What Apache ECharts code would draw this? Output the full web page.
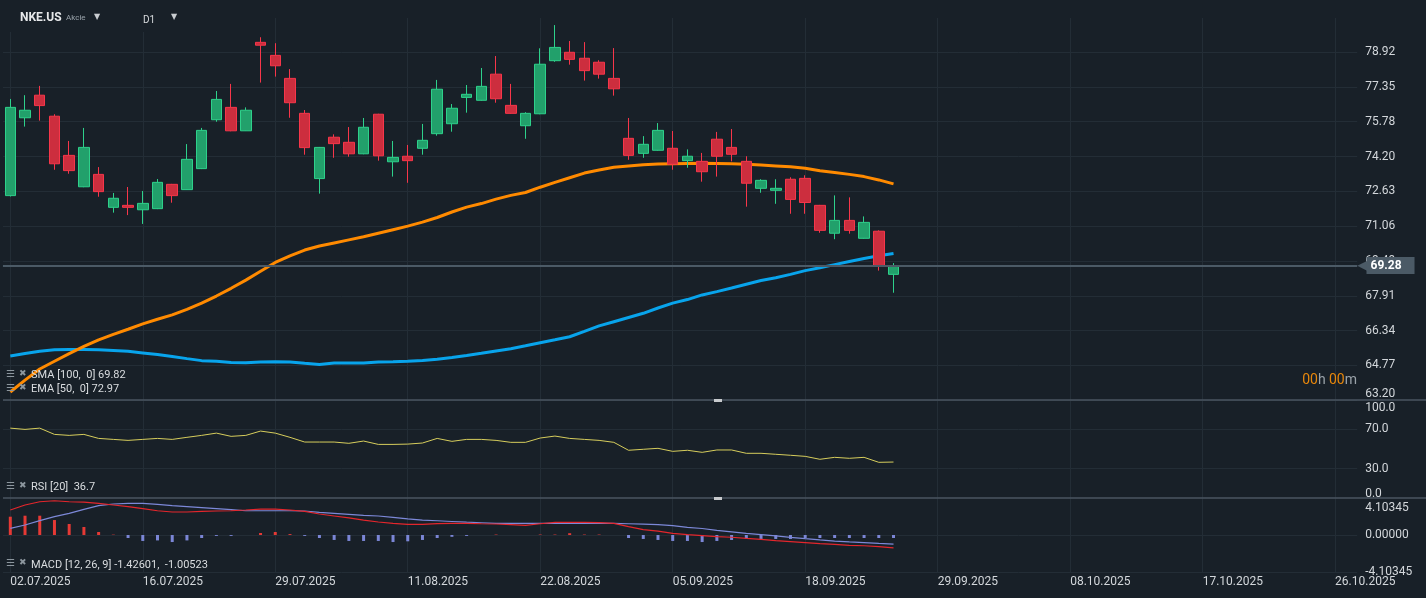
<!DOCTYPE html>
<html><head><meta charset="utf-8">
<script src="https://cdn.jsdelivr.net/npm/echarts@6/dist/echarts.min.js"></script>
<style>html,body{margin:0;padding:0;background:#182028;}#c{width:1426px;height:598px;}</style>
</head><body><div id="c"></div>
<script>
const dates = [
 '02.07.2025','03.07.2025','07.07.2025','08.07.2025','09.07.2025','10.07.2025','11.07.2025','14.07.2025','15.07.2025','16.07.2025',
 '17.07.2025','18.07.2025','21.07.2025','22.07.2025','23.07.2025','24.07.2025','25.07.2025','28.07.2025','29.07.2025','30.07.2025',
 '31.07.2025','01.08.2025','04.08.2025','05.08.2025','06.08.2025','07.08.2025','08.08.2025','11.08.2025','12.08.2025','13.08.2025',
 '14.08.2025','15.08.2025','18.08.2025','19.08.2025','20.08.2025','21.08.2025','22.08.2025','25.08.2025','26.08.2025','27.08.2025',
 '28.08.2025','29.08.2025','02.09.2025','03.09.2025','04.09.2025','05.09.2025','08.09.2025','09.09.2025','10.09.2025','11.09.2025',
 '12.09.2025','15.09.2025','16.09.2025','17.09.2025','18.09.2025','19.09.2025','22.09.2025','23.09.2025','24.09.2025','25.09.2025',
 '26.09.2025',
 '27.09.2025','28.09.2025','29.09.2025','30.09.2025','01.10.2025','02.10.2025','03.10.2025','04.10.2025','05.10.2025','06.10.2025',
 '07.10.2025','08.10.2025','09.10.2025','10.10.2025','11.10.2025','12.10.2025','13.10.2025','14.10.2025','15.10.2025','16.10.2025',
 '17.10.2025','18.10.2025','19.10.2025','20.10.2025','21.10.2025','22.10.2025','23.10.2025','24.10.2025','25.10.2025','26.10.2025',
 '27.10.2025'
];
const xTickLabels = ['02.07.2025','16.07.2025','29.07.2025','11.08.2025','22.08.2025','05.09.2025','18.09.2025','29.09.2025','08.10.2025','17.10.2025','26.10.2025'];

const opens  = [72.44,75.96,76.98,76.03,74.26,72.84,73.40,71.91,72.00,71.80,71.85,72.95,72.71,73.66,75.87,76.43,75.37,79.37,78.78,77.74,
                76.16,73.21,75.08,74.85,74.33,76.12,73.97,74.22,74.58,75.24,75.69,76.88,76.75,77.93,76.52,75.60,76.14,78.54,78.92,78.65,
                78.47,77.74,75.03,74.35,74.49,74.58,74.02,73.99,74.99,74.62,73.99,72.77,72.68,73.18,73.22,72.00,70.74,71.32,70.51,70.83,68.88];
const closes = [76.43,76.30,76.51,73.88,73.57,74.62,72.62,72.32,71.91,72.09,73.04,72.44,74.08,75.39,76.79,75.37,76.30,79.24,78.31,76.64,
                74.61,74.62,74.79,74.33,75.53,74.24,74.17,74.02,74.94,77.25,76.39,77.02,77.38,76.82,76.16,76.16,78.38,79.14,78.60,78.09,
                77.93,77.27,74.26,74.76,75.39,73.86,74.22,73.52,74.22,74.31,73.00,73.13,72.77,72.27,72.13,70.87,71.32,70.87,71.23,69.27,69.28];
const lows   = [72.40,75.56,75.83,73.61,73.43,72.82,72.39,71.67,71.56,71.16,71.83,72.12,72.70,73.64,75.78,75.35,75.36,77.55,77.82,75.96,
                74.29,72.53,74.15,74.20,74.31,74.02,73.30,73.02,74.29,75.15,75.33,76.19,76.73,76.64,76.14,75.01,76.12,78.49,78.36,77.64,
                77.73,76.96,74.06,74.15,74.47,73.61,73.70,73.07,73.30,73.99,71.94,72.57,72.07,71.62,71.62,70.76,70.47,70.72,70.49,69.05,68.05];
const highs  = [76.81,76.98,77.40,76.12,74.91,75.50,73.73,72.56,72.83,72.65,73.19,72.97,74.77,75.50,77.17,77.49,76.43,79.60,79.33,78.16,
                76.31,74.64,75.21,75.54,75.95,76.14,74.91,74.73,75.68,77.67,76.58,77.44,78.21,78.75,77.49,76.21,79.10,80.15,79.43,79.38,
                78.56,79.11,75.95,75.13,75.72,75.36,74.53,74.37,75.32,75.45,74.22,73.18,73.18,73.27,73.36,72.02,72.45,72.36,71.50,70.87,69.39];

const ema50  = [63.56,64.10,64.60,64.95,65.30,65.62,65.92,66.17,66.40,66.64,66.85,67.05,67.30,67.58,67.90,68.25,68.62,69.02,69.42,69.72,
                69.98,70.16,70.30,70.44,70.58,70.74,70.90,71.06,71.24,71.45,71.70,71.92,72.08,72.28,72.45,72.58,72.82,73.04,73.25,73.46,
                73.60,73.72,73.78,73.84,73.87,73.88,73.89,73.90,73.89,73.88,73.86,73.82,73.78,73.74,73.68,73.56,73.48,73.40,73.30,73.15,72.97];
const sma100 = [65.19,65.30,65.40,65.47,65.48,65.48,65.47,65.44,65.40,65.33,65.26,65.17,65.07,64.98,64.95,64.90,64.88,64.92,64.93,64.92,
                64.86,64.81,64.87,64.87,64.87,64.92,64.93,64.95,64.99,65.04,65.12,65.21,65.31,65.42,65.52,65.65,65.79,65.92,66.06,66.30,
                66.55,66.74,66.93,67.12,67.36,67.58,67.74,67.95,68.10,68.26,68.43,68.60,68.73,68.88,69.05,69.18,69.32,69.46,69.60,69.72,69.82];
const rsi20  = [71.3,70.0,71.3,64.9,63.9,64.9,60.8,59.8,58.8,59.8,60.8,59.8,61.9,63.9,66.2,62.9,63.9,68.3,66.2,61.9,
                57.1,57.1,57.1,55.8,58.1,54.7,54.7,55.0,56.1,60.8,57.8,59.8,59.8,58.8,56.8,56.8,61.2,63.2,60.8,59.8,
                58.8,56.8,48.7,49.7,50.7,47.6,48.7,46.6,49.0,49.0,45.6,45.6,44.6,43.6,42.5,39.5,41.5,40.5,41.5,36.4,36.7];
const macdLine   = [2.77,3.33,3.69,3.80,3.69,3.65,3.51,3.33,3.14,2.92,2.69,2.55,2.55,2.63,2.66,2.69,2.77,2.88,2.88,2.77,
                    2.63,2.33,2.11,1.89,1.66,1.44,1.29,1.18,1.18,1.26,1.29,1.29,1.25,1.22,1.15,1.07,1.25,1.41,1.41,1.41,
                    1.37,1.29,0.92,0.60,0.44,0.18,0.04,-0.07,-0.18,-0.25,-0.37,-0.48,-0.63,-0.74,-0.85,-0.96,-1.04,-1.15,-1.19,-1.28,-1.43];
const signalLine = [0.74,1.11,1.59,2.03,2.40,2.85,3.25,3.44,3.51,3.51,3.40,3.25,3.14,3.03,2.92,2.81,2.69,2.69,2.69,2.69,
                    2.66,2.51,2.40,2.29,2.18,2.11,1.95,1.78,1.66,1.58,1.50,1.42,1.36,1.30,1.29,1.29,1.29,1.29,1.29,1.29,
                    1.29,1.29,1.25,1.20,1.15,1.03,0.85,0.72,0.52,0.35,0.18,0.04,-0.10,-0.26,-0.41,-0.55,-0.67,-0.76,-0.84,-0.93,-1.01];
const macdHist   = [2.03,2.14,2.14,1.66,1.22,0.89,0.33,0.04,-0.33,-0.66,-0.60,-0.78,-0.60,-0.33,-0.10,-0.10,0,0.22,0.33,0.10,
                    -0.10,-0.33,-0.55,-0.66,-0.66,-0.66,-0.78,-0.70,-0.55,-0.33,-0.20,-0.10,0,0.05,0,0,0.05,0.05,0.20,0.05,
                    0.05,0,-0.33,-0.44,-0.55,-0.66,-0.66,-0.78,-0.66,-0.55,-0.44,-0.44,-0.44,-0.44,-0.33,-0.33,-0.33,-0.33,-0.33,-0.33,-0.33];

const priceTicks = [63.20,64.77,66.34,67.91,69.49,71.06,72.63,74.20,75.78,77.35,78.92];
const rsiTicks = [0,30,70,100];
const macdTicks = [-4.10345,0,4.10345];
const lastPrice = 69.28;

const BG = '#182028', GRID = '#232d36', LBL = '#d3d7db', SEP = '#4a5560', TAG = '#4b5a66';
const candles = opens.map((o, i) => [o, closes[i], lows[i], highs[i]]);

const gridLeft = 2.94, gridRight = 68.8;
const vLineData = xTickLabels.map(d => ({ xAxis: d }));
function gridMark(hVals) {
  return {
    silent: true, symbol: ['none', 'none'], animation: false, z: 1,
    label: { show: false },
    lineStyle: { color: GRID, width: 1, type: 'solid' },
    data: vLineData.concat(hVals.map(v => ({ yAxis: v })))
  };
}
// labels at pane edges are nudged inside the pane, like the reference
function edgeLabel(min, max, digits, padTop, padBottom) {
  return {
    color: LBL, fontSize: 12, fontFamily: 'Roboto', margin: 8,
    formatter: v => {
      const s = v.toFixed(digits);
      if (Math.abs(v - max) < 1e-9) return '{t|' + s + '}';
      if (Math.abs(v - min) < 1e-9) return '{b|' + s + '}';
      return s;
    },
    rich: {
      t: { color: LBL, fontSize: 12, fontFamily: 'Roboto', padding: [padTop, 0, 0, 0] },
      b: { color: LBL, fontSize: 12, fontFamily: 'Roboto', padding: [0, 0, padBottom, 0] }
    }
  };
}

const chart = echarts.init(document.getElementById('c'), null, { renderer: 'canvas' });
chart.setOption({
  backgroundColor: BG,
  animation: false,
  grid: [
    { left: gridLeft, right: gridRight, top: 18, height: 382 },
    { left: gridLeft, right: gridRight, top: 400, height: 98 },
    { left: gridLeft, right: gridRight, top: 498, height: 74 }
  ],
  xAxis: [0, 1, 2].map(g => ({
    type: 'category', gridIndex: g, data: dates, boundaryGap: true,
    axisLine: { show: false }, axisTick: { show: false }, splitLine: { show: false },
    axisLabel: g < 2 ? { show: false } : {
      show: true, color: LBL, fontSize: 12, fontFamily: 'Roboto', align: 'left', margin: 4,
      interval: (i, v) => xTickLabels.indexOf(v) >= 0
    }
  })),
  yAxis: [
    { type: 'value', gridIndex: 0, position: 'right', min: 63.20, max: 80.47,
      axisLine: { show: false }, axisTick: { show: false }, splitLine: { show: false },
      axisLabel: Object.assign(edgeLabel(63.20, 999, 2, 0, 13), { customValues: priceTicks }) },
    { type: 'value', gridIndex: 1, position: 'right', min: 0, max: 100,
      axisLine: { show: false }, axisTick: { show: false }, splitLine: { show: false },
      axisLabel: Object.assign(edgeLabel(0, 100, 1, 15, 9), { customValues: rsiTicks }) },
    { type: 'value', gridIndex: 2, position: 'right', min: -4.10345, max: 4.10345,
      axisLine: { show: false }, axisTick: { show: false }, splitLine: { show: false },
      axisLabel: Object.assign(edgeLabel(-4.10345, 4.10345, 5, 19, 1), { customValues: macdTicks }) }
  ],
  series: [
    { type: 'line', xAxisIndex: 0, yAxisIndex: 0, data: [], z: 1, markLine: gridMark(priceTicks) },
    { type: 'line', xAxisIndex: 1, yAxisIndex: 1, data: [], z: 1, markLine: gridMark([30, 70]) },
    { type: 'line', xAxisIndex: 2, yAxisIndex: 2, data: [], z: 1, markLine: gridMark([0, -4.10345]) },
    { type: 'line', name: 'SMA', xAxisIndex: 0, yAxisIndex: 0, data: sma100, showSymbol: false, z: 3,
      lineStyle: { color: '#08a4ec', width: 3 } },
    { type: 'line', name: 'EMA', xAxisIndex: 0, yAxisIndex: 0, data: ema50, showSymbol: false, z: 3,
      lineStyle: { color: '#ff8a00', width: 3 } },
    { type: 'candlestick', xAxisIndex: 0, yAxisIndex: 0, data: candles, barWidth: 11, z: 4,
      itemStyle: { color: '#22a06b', color0: '#cc2e3e', borderColor: '#2ed18b', borderColor0: '#f7364a', borderWidth: 1 },
      markLine: {
        silent: true, symbol: ['none', 'none'], animation: false,
        lineStyle: { color: TAG, width: 2, type: 'solid' },
        label: { show: true, position: 'end', distance: 0,
          formatter: () => '{a|◀}{b|' + lastPrice.toFixed(2) + '}',
          rich: {
            a: { color: TAG, fontSize: 16, padding: [0, -3, 0, 0], fontFamily: 'DejaVu Sans' },
            b: { backgroundColor: TAG, color: '#ffffff', fontSize: 12, fontWeight: 'bold', fontFamily: 'Roboto', padding: [3, 13, 2, 4] }
          } },
        data: [{ yAxis: lastPrice }]
      } },
    { type: 'line', xAxisIndex: 1, yAxisIndex: 1, data: rsi20, showSymbol: false, z: 3,
      lineStyle: { color: '#d6cd5c', width: 1 } },
    { type: 'bar', xAxisIndex: 2, yAxisIndex: 2, data: macdHist, barWidth: 3, z: 3,
      itemStyle: { color: p => p.value >= 0 ? '#e53935' : '#7b86d6' } },
    { type: 'line', xAxisIndex: 2, yAxisIndex: 2, data: signalLine, showSymbol: false, z: 3,
      lineStyle: { color: '#7c88d8', width: 1.2 } },
    { type: 'line', xAxisIndex: 2, yAxisIndex: 2, data: macdLine, showSymbol: false, z: 3,
      lineStyle: { color: '#e3262c', width: 1.2 } }
  ],
  graphic: [
    { type: 'rect', left: 0, top: 0, shape: { width: 200, height: 32 }, style: { fill: BG }, z: 50, silent: true },
    { type: 'text', x: 20, y: 18, z: 60, style: { text: 'NKE.US', fill: '#e6e8ea', font: 'bold 12px Roboto', verticalAlign: 'middle' } },
    { type: 'text', x: 66, y: 18, z: 60, style: { text: 'Akcie', fill: '#9aa3ab', font: '8px Roboto', verticalAlign: 'middle' } },
    { type: 'text', x: 94, y: 17, z: 60, style: { text: '▼', fill: '#c9cdd1', font: '8px DejaVu Sans', verticalAlign: 'middle' } },
    { type: 'text', x: 143, y: 20, z: 60, style: { text: 'D1', fill: '#d6d9dc', font: '10px Roboto', verticalAlign: 'middle' } },
    { type: 'text', x: 171, y: 17, z: 60, style: { text: '▼', fill: '#c9cdd1', font: '8px DejaVu Sans', verticalAlign: 'middle' } },
    { type: 'line', z: 60, shape: { x1: 3, y1: 400, x2: 1426, y2: 400 }, style: { stroke: SEP, lineWidth: 1.5 } },
    { type: 'line', z: 60, shape: { x1: 3, y1: 498, x2: 1426, y2: 498 }, style: { stroke: SEP, lineWidth: 1.5 } },
    { type: 'rect', z: 61, shape: { x: 714, y: 399, width: 8, height: 3 }, style: { fill: '#c8cbce' } },
    { type: 'rect', z: 61, shape: { x: 714, y: 497, width: 8, height: 3 }, style: { fill: '#c8cbce' } },
    { type: 'text', x: 6, y: 374, z: 60, style: { text: '☰', fill: '#8c969e', font: '10px DejaVu Sans', verticalAlign: 'middle' } },
    { type: 'text', x: 19, y: 374, z: 60, style: { text: '✖', fill: '#8c969e', font: '9px DejaVu Sans', verticalAlign: 'middle' } },
    { type: 'text', x: 31, y: 375, z: 60, style: { text: 'SMA [100,  0] 69.82', fill: '#dadde0', font: '11px Roboto', verticalAlign: 'middle' } },
    { type: 'text', x: 6, y: 388, z: 60, style: { text: '☰', fill: '#8c969e', font: '10px DejaVu Sans', verticalAlign: 'middle' } },
    { type: 'text', x: 19, y: 388, z: 60, style: { text: '✖', fill: '#8c969e', font: '9px DejaVu Sans', verticalAlign: 'middle' } },
    { type: 'text', x: 31, y: 389.5, z: 60, style: { text: 'EMA [50,  0] 72.97', fill: '#dadde0', font: '11px Roboto', verticalAlign: 'middle' } },
    { type: 'text', x: 6, y: 486, z: 60, style: { text: '☰', fill: '#8c969e', font: '10px DejaVu Sans', verticalAlign: 'middle' } },
    { type: 'text', x: 19, y: 486, z: 60, style: { text: '✖', fill: '#8c969e', font: '9px DejaVu Sans', verticalAlign: 'middle' } },
    { type: 'text', x: 31, y: 487.5, z: 60, style: { text: 'RSI [20]  36.7', fill: '#dadde0', font: '11px Roboto', verticalAlign: 'middle' } },
    { type: 'text', x: 6, y: 563, z: 60, style: { text: '☰', fill: '#8c969e', font: '10px DejaVu Sans', verticalAlign: 'middle' } },
    { type: 'text', x: 19, y: 563, z: 60, style: { text: '✖', fill: '#8c969e', font: '9px DejaVu Sans', verticalAlign: 'middle' } },
    { type: 'text', x: 31, y: 565, z: 60, style: { text: 'MACD [12, 26, 9] -1.42601,  -1.00523', fill: '#dadde0', font: '11px Roboto', verticalAlign: 'middle' } },
    { type: 'text', x: 1357, y: 380, z: 60, style: {
        text: '{o|00}{g|h} {o|00}{g|m}', align: 'right', verticalAlign: 'middle',
        rich: { o: { fill: '#e8870b', font: '14px Roboto' }, g: { fill: '#9aa2a9', font: '14px Roboto' } } } }
  ]
});
</script></body></html>
